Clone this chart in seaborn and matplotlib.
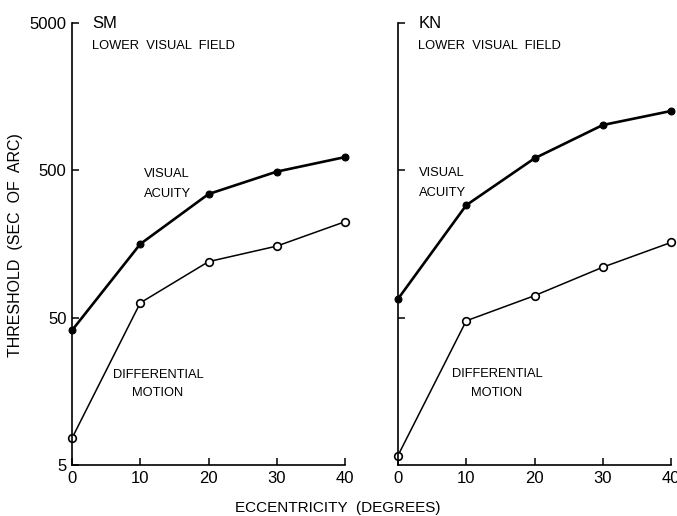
import matplotlib
matplotlib.use("Agg")
import matplotlib.pyplot as plt
import seaborn as sns
import pandas as pd

# data
eccentricity = [0, 10, 20, 30, 40]
sm_acuity = [41, 158, 345, 490, 615]
sm_motion = [7.6, 63, 120, 153, 224]
kn_acuity = [67, 290, 603, 1015, 1264]
kn_motion = [5.8, 47.6, 70.5, 110, 162]
y_ticks = [5, 50, 500, 5000]

sns.set_theme(style="ticks")
plt.rcParams["font.family"] = ["Liberation Sans", "DejaVu Sans"]
plt.rcParams["text.color"] = "black"

fig = plt.figure(figsize=(6.77, 5.16), dpi=100)
ax_l = fig.add_axes([72 / 677, 51 / 516, 273 / 677, 442 / 516])
ax_r = fig.add_axes([398 / 677, 51 / 516, 273 / 677, 442 / 516])

small = 9.3


def draw_panel(ax, subject, acuity, motion):
    df = pd.DataFrame({"ecc": eccentricity, "acuity": acuity, "motion": motion})
    sns.lineplot(data=df, x="ecc", y="acuity", ax=ax, color="black", lw=1.9,
                 marker="o", markersize=5, markerfacecolor="black",
                 markeredgecolor="black", clip_on=False)
    sns.lineplot(data=df, x="ecc", y="motion", ax=ax, color="black", lw=1.1,
                 marker="o", markersize=5.5, markerfacecolor="white",
                 markeredgecolor="black", markeredgewidth=1.2, clip_on=False)
    ax.set_yscale("log")
    ax.set_ylim(5, 5000)
    ax.set_xlim(0, 40)
    ax.set_xticks(eccentricity)
    ax.minorticks_off()
    ax.set_xlabel("")
    ax.set_ylabel("")
    for s in ["top", "right"]:
        ax.spines[s].set_visible(False)
    for s in ["left", "bottom"]:
        ax.spines[s].set_linewidth(1.2)
        ax.spines[s].set_color("black")
    ax.tick_params(direction="in", length=5, width=1.1, colors="black",
                   labelsize=12, pad=4)
    ax.text(3.0, 5000, subject, fontsize=12, va="center", ha="left")
    ax.text(3.0, 3500, "LOWER  VISUAL  FIELD", fontsize=small, va="center", ha="left")
    ax.set_facecolor("white")


draw_panel(ax_l, "SM", sm_acuity, sm_motion)
draw_panel(ax_r, "KN", kn_acuity, kn_motion)

ax_l.set_yticks(y_ticks)
ax_l.set_yticklabels([str(v) for v in y_ticks])
ax_r.set_yticks(y_ticks[1:])
ax_r.set_yticklabels([])

# curve labels
ax_l.text(10.5, 470, "VISUAL", fontsize=small, va="center", ha="left")
ax_l.text(10.5, 345, "ACUITY", fontsize=small, va="center", ha="left")
ax_l.text(12.6, 20.5, "DIFFERENTIAL", fontsize=small, va="center", ha="center")
ax_l.text(12.6, 15.3, "MOTION", fontsize=small, va="center", ha="center")

ax_r.text(3.1, 480, "VISUAL", fontsize=small, va="center", ha="left")
ax_r.text(3.1, 350, "ACUITY", fontsize=small, va="center", ha="left")
ax_r.text(14.5, 20.8, "DIFFERENTIAL", fontsize=small, va="center", ha="center")
ax_r.text(14.5, 15.4, "MOTION", fontsize=small, va="center", ha="center")

fig.text(16 / 677, 1 - 245 / 516, "THRESHOLD  (SEC  OF  ARC)", rotation=90,
         fontsize=11.5, va="center", ha="center")
fig.text(338 / 677, 1 - 508 / 516, "ECCENTRICITY  (DEGREES)",
         fontsize=11, va="center", ha="center")

fig.savefig("out.png", dpi=100, facecolor="white")
